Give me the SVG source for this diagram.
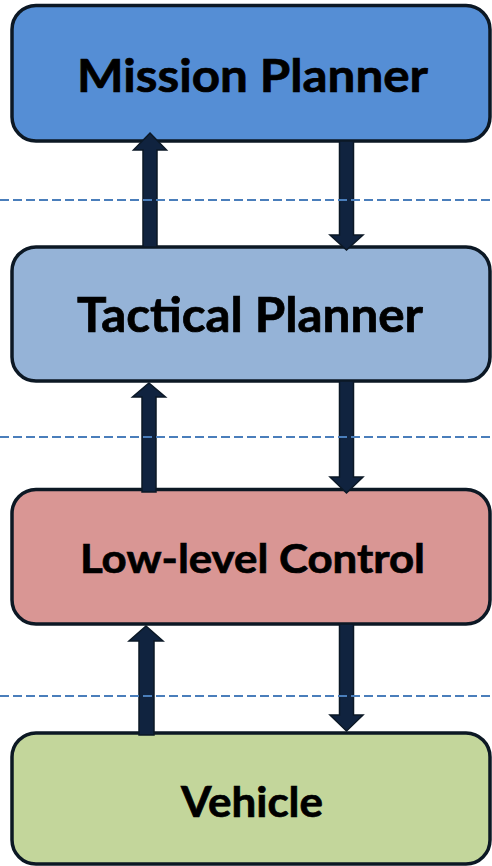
<svg xmlns="http://www.w3.org/2000/svg" width="492" height="866" viewBox="0 0 492 866">
<style>
.box{stroke:#0c1824;stroke-width:3.5}
.lbl{font-family:Lato,"Open Sans","Liberation Sans",sans-serif;font-weight:bold;fill:#000;stroke:#000;stroke-width:0.7;text-anchor:middle}
.arr{fill:#10233f;stroke:#0b1826;stroke-width:1.5;stroke-linejoin:miter}
.dash{stroke:#4a7ebb;stroke-width:2.2;stroke-dasharray:9 4;fill:none}
</style>
<rect width="492" height="866" fill="#fff"/>
<g id="mission">
<rect class="box" x="12" y="5.5" width="478" height="135.5" rx="24" fill="#558ed5"/>
<text class="lbl" x="252.5" y="92" font-size="46" textLength="351" lengthAdjust="spacingAndGlyphs">Mission Planner</text>
</g>
<g id="tactical">
<rect class="box" x="12" y="247" width="478" height="134" rx="24" fill="#95b3d7"/>
<text class="lbl" x="250" y="332" font-size="47" textLength="346" lengthAdjust="spacingAndGlyphs">Tactical Planner</text>
</g>
<g id="lowlevel">
<rect class="box" x="12" y="489.5" width="478" height="134.5" rx="24" fill="#d99694"/>
<text class="lbl" x="252.5" y="573" font-size="40" textLength="345" lengthAdjust="spacingAndGlyphs">Low-level Control</text>
</g>
<g id="vehicle">
<rect class="box" x="12" y="733" width="478" height="131" rx="24" fill="#c3d69b"/>
<text class="lbl" x="252" y="817" font-size="42" textLength="142" lengthAdjust="spacingAndGlyphs">Vehicle</text>
</g>
<g id="connectors">
<polygon class="arr" points="150,133 166.5,150 157,150 157,247 143,247 143,150 133.5,150"/>
<polygon class="arr" points="339.5,141 353.5,141 353.5,235 363,235 346.5,250 330,235 339.5,235"/>
<polygon class="arr" points="149,383 165.5,397 156,397 156,492 142,492 142,397 132.5,397"/>
<polygon class="arr" points="339.5,381 353.5,381 353.5,477 363,477 346.5,493 330,477 339.5,477"/>
<polygon class="arr" points="146,626 163,641 154,641 154,735 139,735 139,641 129,641"/>
<polygon class="arr" points="339.5,624 353.5,624 353.5,715 363,715 346.5,731 330,715 339.5,715"/>
<line class="dash" x1="0" y1="200" x2="492" y2="200"/>
<line class="dash" x1="0" y1="437" x2="492" y2="437"/>
<line class="dash" x1="0" y1="696" x2="492" y2="696"/>
</g>
</svg>
